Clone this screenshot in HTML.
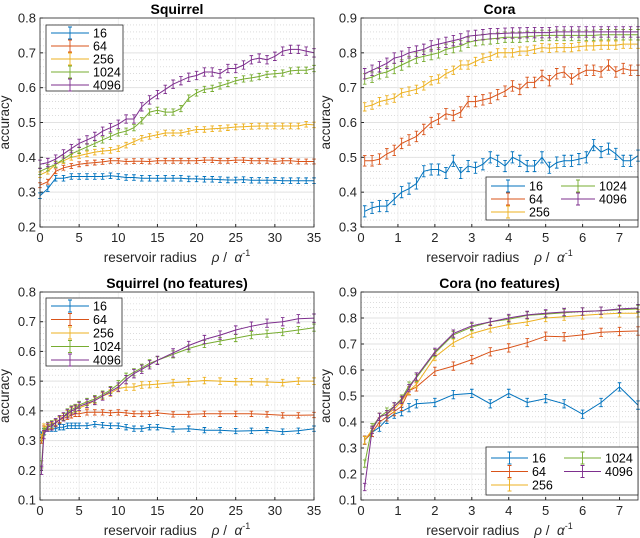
<!DOCTYPE html>
<html><head><meta charset="utf-8"><style>
body{margin:0;background:#fff;}
svg{display:block;font-family:"Liberation Sans",sans-serif;}
</style></head><body>
<svg id="chart" width="640" height="538"></svg>
<script>
const colors=["#0072BD","#D95319","#EDB120","#77AC30","#7E2F8E"];
const seriesNames=["16","64","256","1024","4096"];

// Panel 1: Squirrel
const p1x=[0,1,2,3,4,5,6,7,8,9,10,11,12,13,14,15,16,17,18,19,20,21,22,23,24,25,26,27,28,29,30,31,32,33,34,35];
const p1s16=[0.29,0.31,0.34,0.34,0.345,0.345,0.345,0.345,0.345,0.347,0.345,0.342,0.342,0.34,0.34,0.34,0.34,0.34,0.34,0.338,0.338,0.337,0.337,0.336,0.335,0.335,0.336,0.334,0.334,0.334,0.334,0.333,0.333,0.333,0.333,0.333];
const p1s64=[0.32,0.33,0.36,0.37,0.375,0.38,0.383,0.385,0.387,0.39,0.39,0.388,0.389,0.389,0.388,0.39,0.39,0.39,0.39,0.39,0.39,0.392,0.392,0.39,0.39,0.392,0.392,0.39,0.39,0.39,0.388,0.39,0.39,0.388,0.388,0.388];
const p1s256=[0.35,0.36,0.38,0.39,0.40,0.405,0.41,0.415,0.418,0.42,0.425,0.435,0.445,0.455,0.46,0.465,0.47,0.47,0.47,0.475,0.48,0.48,0.482,0.483,0.485,0.487,0.488,0.489,0.49,0.49,0.49,0.49,0.49,0.49,0.495,0.493];
const p1s1024=[0.36,0.37,0.38,0.395,0.41,0.42,0.43,0.44,0.45,0.46,0.47,0.475,0.485,0.505,0.53,0.535,0.53,0.53,0.54,0.57,0.585,0.595,0.598,0.605,0.612,0.62,0.625,0.628,0.632,0.638,0.64,0.642,0.648,0.65,0.65,0.655];
const p1s4096=[0.38,0.385,0.395,0.41,0.425,0.44,0.45,0.46,0.475,0.485,0.495,0.51,0.51,0.545,0.565,0.58,0.595,0.61,0.62,0.63,0.635,0.645,0.645,0.64,0.655,0.655,0.665,0.68,0.685,0.68,0.69,0.705,0.71,0.71,0.705,0.70];
const p1err=[0.008,0.007,0.008,0.009,0.012];

// Panel 2: Cora
const p2x=[0.1,0.3,0.5,0.7,0.9,1.1,1.3,1.5,1.7,1.9,2.1,2.3,2.5,2.7,2.9,3.1,3.3,3.5,3.7,3.9,4.1,4.3,4.5,4.7,4.9,5.1,5.3,5.5,5.7,5.9,6.1,6.3,6.5,6.7,6.9,7.1,7.3,7.5];
const p2s16=[0.345,0.355,0.36,0.36,0.38,0.40,0.41,0.425,0.46,0.465,0.465,0.455,0.49,0.455,0.475,0.47,0.48,0.50,0.49,0.475,0.50,0.49,0.475,0.475,0.50,0.47,0.485,0.49,0.49,0.495,0.50,0.535,0.515,0.525,0.51,0.49,0.49,0.505];
const p2s64=[0.49,0.49,0.495,0.51,0.52,0.54,0.55,0.56,0.58,0.60,0.61,0.625,0.62,0.63,0.66,0.66,0.665,0.67,0.68,0.69,0.705,0.695,0.715,0.715,0.735,0.72,0.74,0.745,0.725,0.74,0.75,0.75,0.745,0.765,0.745,0.755,0.75,0.75];
const p2s256=[0.645,0.65,0.66,0.665,0.67,0.685,0.69,0.695,0.705,0.72,0.725,0.74,0.75,0.765,0.765,0.775,0.785,0.79,0.80,0.80,0.80,0.805,0.805,0.81,0.815,0.813,0.815,0.815,0.815,0.818,0.82,0.82,0.822,0.822,0.822,0.825,0.825,0.825];
const p2s1024=[0.725,0.73,0.74,0.745,0.755,0.765,0.775,0.785,0.79,0.795,0.80,0.81,0.815,0.82,0.83,0.835,0.838,0.84,0.842,0.845,0.845,0.845,0.847,0.848,0.85,0.85,0.85,0.85,0.85,0.85,0.85,0.85,0.852,0.852,0.852,0.852,0.852,0.852];
const p2s4096=[0.74,0.75,0.76,0.77,0.785,0.79,0.80,0.805,0.81,0.82,0.825,0.83,0.835,0.84,0.848,0.85,0.852,0.855,0.855,0.856,0.857,0.857,0.858,0.858,0.858,0.858,0.86,0.86,0.86,0.86,0.86,0.86,0.86,0.86,0.86,0.86,0.86,0.86];
const p2err=[0.016,0.015,0.012,0.015,0.015];

// Panel 3: Squirrel (no features)
const p3x=[0.2,0.5,1,1.5,2,2.5,3,3.5,4,4.5,5,6,7,8,9,10,11,12,13,14,15,17,19,21,23,25,27,29,31,33,35];
const p3s16=[0.32,0.33,0.34,0.34,0.34,0.345,0.345,0.35,0.35,0.35,0.35,0.35,0.355,0.352,0.35,0.35,0.345,0.34,0.34,0.345,0.345,0.338,0.34,0.335,0.335,0.332,0.333,0.335,0.33,0.333,0.34];
const p3s64=[0.30,0.34,0.345,0.35,0.36,0.37,0.375,0.38,0.385,0.39,0.39,0.395,0.395,0.395,0.393,0.395,0.393,0.39,0.39,0.39,0.393,0.388,0.388,0.39,0.39,0.39,0.39,0.388,0.385,0.385,0.386];
const p3s256=[0.31,0.345,0.35,0.35,0.36,0.37,0.38,0.39,0.40,0.405,0.41,0.42,0.435,0.45,0.46,0.475,0.48,0.48,0.487,0.488,0.49,0.495,0.498,0.502,0.5,0.498,0.498,0.497,0.495,0.5,0.5];
const p3s1024=[0.22,0.33,0.35,0.355,0.36,0.37,0.38,0.395,0.405,0.41,0.42,0.43,0.44,0.455,0.47,0.49,0.515,0.53,0.545,0.56,0.57,0.59,0.61,0.625,0.635,0.645,0.655,0.66,0.665,0.672,0.68];
const p3s4096=[0.20,0.32,0.345,0.35,0.36,0.37,0.38,0.39,0.40,0.405,0.415,0.425,0.435,0.45,0.465,0.48,0.505,0.525,0.54,0.555,0.57,0.595,0.62,0.64,0.655,0.672,0.685,0.695,0.70,0.71,0.712];
const p3err=[0.009,0.009,0.011,0.012,0.014];

// Panel 4: Cora (no features)
const p4x=[0.1,0.3,0.5,0.7,0.9,1.1,1.3,1.5,2,2.5,3,3.5,4,4.5,5,5.5,6,6.5,7,7.5];
const p4s16=[0.33,0.36,0.38,0.41,0.43,0.44,0.455,0.47,0.475,0.505,0.51,0.47,0.51,0.475,0.49,0.47,0.43,0.475,0.535,0.465];
const p4s64=[0.33,0.36,0.40,0.42,0.44,0.46,0.52,0.535,0.595,0.615,0.64,0.67,0.685,0.705,0.73,0.728,0.735,0.745,0.748,0.75];
const p4s256=[0.33,0.37,0.42,0.43,0.45,0.48,0.52,0.545,0.65,0.705,0.74,0.76,0.775,0.785,0.80,0.805,0.81,0.815,0.818,0.818];
const p4s1024=[0.24,0.38,0.42,0.44,0.46,0.49,0.54,0.57,0.665,0.735,0.765,0.785,0.795,0.81,0.815,0.82,0.825,0.828,0.832,0.835];
const p4s4096=[0.15,0.37,0.42,0.43,0.46,0.485,0.53,0.575,0.67,0.74,0.77,0.785,0.80,0.812,0.818,0.823,0.825,0.828,0.835,0.838];
const p4err=[0.016,0.016,0.014,0.014,0.014];

const p1yt=["0.2","0.3","0.4","0.5","0.6","0.7","0.8"];
const p2yt=["0.3","0.4","0.5","0.6","0.7","0.8","0.9"];
const p3yt=["0.1","0.2","0.3","0.4","0.5","0.6","0.7","0.8"];
const p4yt=["0.1","0.2","0.3","0.4","0.5","0.6","0.7","0.8","0.9"];
const sqxt=["0","5","10","15","20","25","30","35"];
const coxt=["0","1","2","3","4","5","6","7"];

const NS="http://www.w3.org/2000/svg";
const svg=document.getElementById('chart');
function mk(tag,attrs,parent){const e=document.createElementNS(NS,tag);for(const k in attrs)e.setAttribute(k,attrs[k]);(parent||svg).appendChild(e);return e;}

function panel(cfg){
  const g=mk('g',{});
  
  
  const L=cfg.box[0],T=cfg.box[1],R=cfg.box[2],B=cfg.box[3];
  const xs=v=>L+(v-cfg.xmin)/(cfg.xmax-cfg.xmin)*(R-L);
  const ys=v=>B-(v-cfg.ymin)/(cfg.ymax-cfg.ymin)*(B-T);
  mk('rect',{x:L,y:T,width:R-L,height:B-T,fill:'#fff'},g);
  const ystepMinor=0.02;
  for(let v=cfg.ymin;v<cfg.ymax-1e-9;v+=ystepMinor){
    const y=ys(v);
    const gl=mk('line',{x1:L,x2:R,y1:y,y2:y,stroke:'#c8c8c8','stroke-width':0.6,'stroke-dasharray':'1,2'},g);
    
    
  }
  cfg.yticks.forEach(t=>{
    const y=ys(parseFloat(t));
    const gl=mk('line',{x1:L,x2:R,y1:y,y2:y,stroke:'#e2e2e2','stroke-width':1},g);
    
    
    mk('line',{x1:L,x2:L+3,y1:y,y2:y,stroke:'#262626'},g);
    const tx=mk('text',{x:L-4,y:y+4.5,'text-anchor':'end','font-size':13,fill:'#262626'},g);
    tx.textContent=t;
    
    
  });
  cfg.xticks.forEach(t=>{
    const x=xs(parseFloat(t));
    mk('line',{x1:x,x2:x,y1:T,y2:B,stroke:'#ececec','stroke-width':0.8},g);
    mk('line',{x1:x,x2:x,y1:B,y2:B-3,stroke:'#262626'},g);
    const tx=mk('text',{x:x,y:B+15,'text-anchor':'middle','font-size':13,fill:'#262626'},g);
    tx.textContent=t;
    
    
  });
  cfg.series.forEach((s,i)=>{
    const sg=mk('g',{},g);
    
    
    const pts=cfg.x.map((xv,j)=>xs(xv).toFixed(1)+','+ys(s[j]).toFixed(1)).join(' ');
    const pl=mk('polyline',{points:pts,fill:'none',stroke:colors[i],'stroke-width':1},sg);
    
    
    cfg.x.forEach((xv,j)=>{
      const x=xs(xv),y1=ys(s[j]+cfg.err[i]),y2=ys(s[j]-cfg.err[i]);
      const eb=mk('path',{d:`M${x},${y1}V${y2}M${x-1.8},${y1}H${x+1.8}M${x-1.8},${y2}H${x+1.8}`,stroke:colors[i],'stroke-width':0.9,fill:'none'},sg);
      
      
    });
  });
  mk('rect',{x:L,y:T,width:R-L,height:B-T,fill:'none',stroke:'#262626','stroke-width':0.8},g);
  const ti=mk('text',{x:(L+R)/2,y:T-4,'text-anchor':'middle','font-size':14,'font-weight':'bold',fill:'#000'},g);
  ti.textContent=cfg.title;
  
  
  const xl=mk('text',{x:(L+R)/2,y:B+35,'text-anchor':'middle','font-size':13.5,fill:'#262626'},g);
  xl.innerHTML='reservoir radius \u00a0\u00a0\u00a0<tspan font-style="italic">ρ</tspan> / \u00a0<tspan font-style="italic">α</tspan><tspan dy="-6" font-size="9">-1</tspan>';
  
  
  const yl=mk('text',{x:0,y:0,'text-anchor':'middle','font-size':13.5,fill:'#262626',transform:`translate(${L-31},${(T+B)/2}) rotate(-90)`},g);
  yl.textContent='accuracy';
  
  
  const lg=mk('g',{},g);
  
  
  const lb=cfg.legend;
  mk('rect',{x:lb.x,y:lb.y,width:lb.w,height:lb.h,fill:'#fff',stroke:'#262626','stroke-width':0.8},lg);
  seriesNames.forEach((n,i)=>{
    let col=0,row=i;
    if(lb.cols===2){col=i<3?0:1;row=i<3?i:i-3;}
    const ex=lb.x+5+col*lb.colw,ey=lb.y+lb.r0+row*lb.rh;
    const e=mk('g',{},lg);
    
    
    mk('line',{x1:ex,x2:ex+lb.lw,y1:ey,y2:ey,stroke:colors[i],'stroke-width':1},e);
    const mx=ex+lb.lw/2;
    mk('path',{d:`M${mx},${ey-6}V${ey+6}M${mx-2},${ey-6}H${mx+2}M${mx-2},${ey+6}H${mx+2}`,stroke:colors[i],'stroke-width':0.9,fill:'none'},e);
    const t=mk('text',{x:ex+lb.lw+4,y:ey+4.5,'font-size':12.5,fill:'#000'},e);
    t.textContent=n;
  });
}

panel({name:'panel-squirrel',title:'Squirrel',box:[40,18,314,227],xmin:0,xmax:35,ymin:0.2,ymax:0.8,x:p1x,series:[p1s16,p1s64,p1s256,p1s1024,p1s4096],err:p1err,yticks:p1yt,xticks:sqxt,legend:{x:46,y:25,w:77,h:66,cols:1,colw:0,r0:8,rh:13,lw:38}});
panel({name:'panel-cora',title:'Cora',box:[361,18,638,227],xmin:0,xmax:7.5,ymin:0.3,ymax:0.9,x:p2x,series:[p2s16,p2s64,p2s256,p2s1024,p2s4096],err:p2err,yticks:p2yt,xticks:coxt,legend:{x:486,y:177,w:152,h:43,cols:2,colw:70,r0:9,rh:13,lw:34}});
panel({name:'panel-squirrel-no-features',title:'Squirrel (no features)',box:[40,292,314,500],xmin:0,xmax:35,ymin:0.1,ymax:0.8,x:p3x,series:[p3s16,p3s64,p3s256,p3s1024,p3s4096],err:p3err,yticks:p3yt,xticks:sqxt,legend:{x:46,y:298,w:76,h:68,cols:1,colw:0,r0:8,rh:13.5,lw:38}});
panel({name:'panel-cora-no-features',title:'Cora (no features)',box:[361,292,638,500],xmin:0,xmax:7.5,ymin:0.1,ymax:0.9,x:p4x,series:[p4s16,p4s64,p4s256,p4s1024,p4s4096],err:p4err,yticks:p4yt,xticks:coxt,legend:{x:486,y:447,w:152,h:48,cols:2,colw:73,r0:11,rh:13.5,lw:37}});
</script>
</body></html>
